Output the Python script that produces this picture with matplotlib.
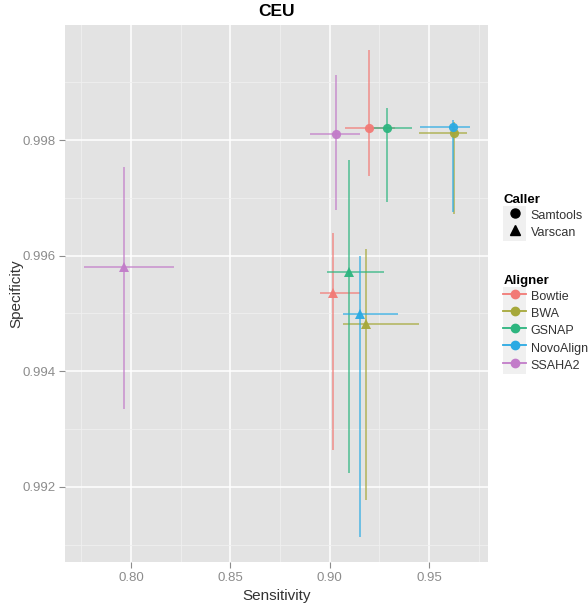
import numpy as np
import matplotlib
matplotlib.use("Agg")
import matplotlib.pyplot as plt
from matplotlib.lines import Line2D
from matplotlib.patches import Patch
from matplotlib.legend_handler import HandlerTuple
from matplotlib.ticker import FixedLocator, FormatStrFormatter

plt.rcParams['font.family'] = ['Liberation Sans', 'DejaVu Sans']

# data
aligners = ["Bowtie", "BWA", "GSNAP", "NovoAlign", "SSAHA2"]
callers = ["Samtools", "Varscan"]

# Samtools (circles)
sam_sens = [0.9200, 0.9626, 0.9287, 0.9619, 0.9032]
sam_spec = [0.99821, 0.99812, 0.99820, 0.99822, 0.99810]
sam_sens_lo = [0.9077, 0.9449, 0.9211, 0.9454, 0.8901]
sam_sens_hi = [0.9329, 0.9691, 0.9413, 0.9706, 0.9152]
sam_spec_lo = [0.99737, 0.99672, 0.99692, 0.99675, 0.99679]
sam_spec_hi = [0.99956, 0.99832, 0.99855, 0.99835, 0.99912]

# Varscan (triangles)
var_sens = [0.9018, 0.9183, 0.9097, 0.9152, 0.7966]
var_spec = [0.99536, 0.99481, 0.99572, 0.99499, 0.99580]
var_sens_lo = [0.8951, 0.9065, 0.8985, 0.9068, 0.7763]
var_sens_hi = [0.9152, 0.9449, 0.9273, 0.9345, 0.8216]
var_spec_lo = [0.99264, 0.99178, 0.99224, 0.99114, 0.99335]
var_spec_hi = [0.99640, 0.99611, 0.99765, 0.99600, 0.99754]

x_ticks = [0.80, 0.85, 0.90, 0.95]
y_ticks = [0.992, 0.994, 0.996, 0.998]

# ggplot hues, a bit washed out like the printed figure
colors = ["#F27A76", "#A6A83A", "#2DB57F", "#2AAAE3", "#C27CC9"]

fig = plt.figure(figsize=(5.88, 6.05), dpi=100)
ax = fig.add_axes([65 / 588, 43 / 605, 423 / 588, 537 / 605])
ax.set_facecolor("#E3E3E3")
for s in ax.spines.values():
    s.set_visible(False)

series = [
    ("o", 6.6, sam_sens, sam_spec, sam_sens_lo, sam_sens_hi, sam_spec_lo, sam_spec_hi),
    ("^", 7.0, var_sens, var_spec, var_sens_lo, var_sens_hi, var_spec_lo, var_spec_hi),
]
for marker, ms, sx, sy, xlo, xhi, ylo, yhi in series:
    for i, name in enumerate(aligners):
        c = colors[i]
        # horizontal and vertical error bars
        ax.plot([xlo[i], xhi[i]], [sy[i], sy[i]], color=c, lw=1.2, alpha=0.75,
                solid_capstyle="butt", zorder=3)
        ax.plot([sx[i], sx[i]], [ylo[i], yhi[i]], color=c, lw=1.2, alpha=0.75,
                solid_capstyle="butt", zorder=3)
    for i, name in enumerate(aligners):
        ax.plot(sx[i], sy[i], marker=marker, color=colors[i], ms=ms,
                markeredgewidth=0, linestyle="none", alpha=0.95, zorder=4)

ax.set_xlim(0.7668, 0.9797)
ax.set_ylim(0.9907, 0.99999)

ax.xaxis.set_major_locator(FixedLocator(x_ticks))
ax.yaxis.set_major_locator(FixedLocator(y_ticks))
ax.xaxis.set_minor_locator(FixedLocator([0.775, 0.825, 0.875, 0.925, 0.975]))
ax.yaxis.set_minor_locator(FixedLocator([0.991, 0.993, 0.995, 0.997, 0.999]))
ax.xaxis.set_major_formatter(FormatStrFormatter("%.2f"))
ax.yaxis.set_major_formatter(FormatStrFormatter("%.3f"))

ax.grid(which="major", color="white", lw=1.1, zorder=0)
ax.grid(which="minor", color="#F0F0F0", lw=0.6, zorder=0)
ax.set_axisbelow(True)
ax.tick_params(which="major", length=4, width=0.8, color="#8C8C8C",
               labelcolor="#8C8C8C", labelsize=9.5, pad=3)
ax.tick_params(which="minor", length=0)

ax.set_xlabel("Sensitivity", fontsize=11, color="#333333", labelpad=4)
ax.set_ylabel("Specificity", fontsize=11, color="#333333", labelpad=-1)
fig.text((65 + 488) / 2 / 588, 1 - 11 / 605, "CEU", ha="center", va="center",
         fontsize=12.5, fontweight="bold")

# legends
key_bg = "#F0F0F0"
caller_handles = [
    (Patch(facecolor=key_bg, edgecolor="none"),
     Line2D([], [], marker=m, color="black", ms=6.5, linestyle="none"))
    for m in ["o", "^"]
]
aligner_handles = [
    (Patch(facecolor=key_bg, edgecolor="none"),
     Line2D([], [], marker="o", color=c, ms=6, lw=1.3))
    for c in colors
]

common = dict(frameon=False, fontsize=9, handlelength=1.8, handleheight=1.75,
              labelspacing=0.0, handletextpad=0.4, borderpad=0, alignment="left",
              handler_map={tuple: HandlerTuple(ndivide=1, pad=0)},
              title_fontproperties={"weight": "bold", "size": 9.5})
leg1 = fig.legend(caller_handles, callers, title="Caller", loc="upper left",
                  bbox_to_anchor=(497 / 588, 1 - 188 / 605), **common)
leg2 = fig.legend(aligner_handles, aligners, title="Aligner", loc="upper left",
                  bbox_to_anchor=(497 / 588, 1 - 269 / 605), **common)
for leg in (leg1, leg2):
    leg._legend_box.align = "left"
    for t in leg.get_texts():
        t.set_color("#333333")

fig.savefig("out.png", dpi=100)
